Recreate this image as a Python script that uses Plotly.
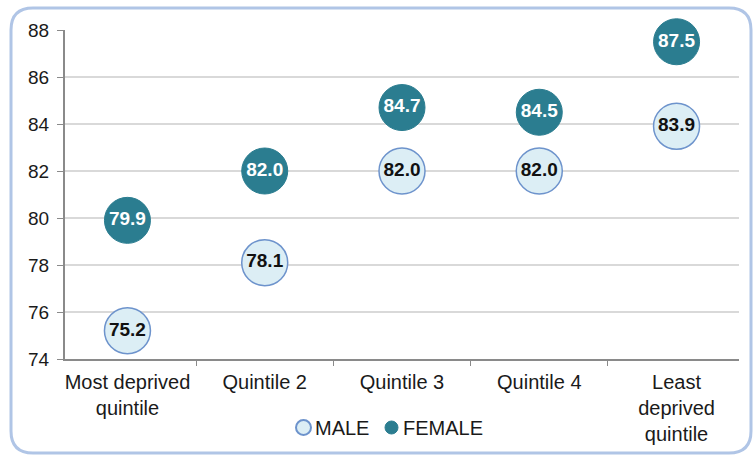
import plotly.graph_objects as go

categories = ["Most deprived<br>quintile", "Quintile 2", "Quintile 3", "Quintile 4",
              "Least<br>deprived<br>quintile"]
male = [75.2, 78.1, 82.0, 82.0, 83.9]
female = [79.9, 82.0, 84.7, 84.5, 87.5]
series_names = ["MALE", "FEMALE"]

W, H = 753, 456
ML, MR, MT, MB = 65, 14, 30, 97
PW, PH = W - ML - MR, H - MT - MB

TEAL = "#2b7d90"
MALE_FILL = "#dceef5"
MALE_LINE = "#6d93cc"
FONT = "Liberation Sans, Arial, sans-serif"
INK = "#1a1a1a"


def px(x, y):
    # pixel position on the page -> paper coordinates
    return (x - ML) / PW, (H - MB - y) / PH


def rounded_rect(x0, y0, x1, y1, r):
    ax, ay = px(x0, y0)
    bx, by = px(x1, y1)
    rx, ry = r / PW, r / PH
    return (f"M {ax + rx} {ay} L {bx - rx} {ay} Q {bx} {ay} {bx} {ay - ry} "
            f"L {bx} {by + ry} Q {bx} {by} {bx - rx} {by} "
            f"L {ax + rx} {by} Q {ax} {by} {ax} {by + ry} "
            f"L {ax} {ay - ry} Q {ax} {ay} {ax + rx} {ay} Z")


fig = go.Figure()
fig.add_trace(go.Scatter(
    x=categories, y=male, mode="markers+text", name=series_names[0],
    marker=dict(size=46, color=MALE_FILL, line=dict(color=MALE_LINE, width=1.5)),
    text=[f"{v:.1f}" for v in male], textposition="middle center",
    textfont=dict(family=FONT, size=19, color="#111111", weight="bold"),
    cliponaxis=False,
))
fig.add_trace(go.Scatter(
    x=categories, y=female, mode="markers+text", name=series_names[1],
    marker=dict(size=46, color=TEAL, line=dict(color=TEAL, width=1)),
    text=[f"{v:.1f}" for v in female], textposition="middle center",
    textfont=dict(family=FONT, size=19, color="white", weight="bold"),
    cliponaxis=False,
))

# outer rounded frame
fig.add_shape(type="path", xref="paper", yref="paper", layer="below",
              path=rounded_rect(11, 8, 751, 453, 22),
              line=dict(color="#b0c5e6", width=3))

# hand-built legend (tight marker/text spacing like the original)
x0, y0 = px(296, 435)
x1, y1 = px(311, 420)
fig.add_shape(type="circle", xref="paper", yref="paper", x0=x0, y0=y0, x1=x1, y1=y1,
              fillcolor=MALE_FILL, line=dict(color=MALE_LINE, width=2))
x0, y0 = px(385, 434)
x1, y1 = px(398, 421)
fig.add_shape(type="circle", xref="paper", yref="paper", x0=x0, y0=y0, x1=x1, y1=y1,
              fillcolor=TEAL, line=dict(color=TEAL, width=1))
for name, left in zip(series_names, [313, 401]):
    ax, ay = px(left, 428)
    fig.add_annotation(x=ax, y=ay, xref="paper", yref="paper", text=name,
                       showarrow=False, xanchor="left", yanchor="middle",
                       font=dict(family=FONT, size=20, color=INK))

fig.update_xaxes(
    type="category", showgrid=False, showline=True, linecolor="#8a8a8a", linewidth=2,
    ticks="outside", tickson="boundaries", ticklen=5, tickcolor="#8a8a8a",
    ticklabelstandoff=4,
    tickfont=dict(family=FONT, size=20, color=INK), automargin=False,
)
fig.update_yaxes(
    range=[74, 88], dtick=2, showgrid=True, gridcolor="#d9d9d9", gridwidth=1.5,
    showline=True, linecolor="#8a8a8a", linewidth=2, zeroline=False,
    ticks="outside", ticklen=6, tickcolor="#8a8a8a", ticklabelstandoff=4,
    tickfont=dict(family=FONT, size=19, color=INK), automargin=False,
)
fig.update_layout(
    width=W, height=H, margin=dict(l=ML, r=MR, t=MT, b=MB, pad=0),
    plot_bgcolor="white", paper_bgcolor="white",
    showlegend=False,
)

fig.write_html("out.html", config={"displayModeBar": False},
               post_script="document.body.style.margin='0';")
